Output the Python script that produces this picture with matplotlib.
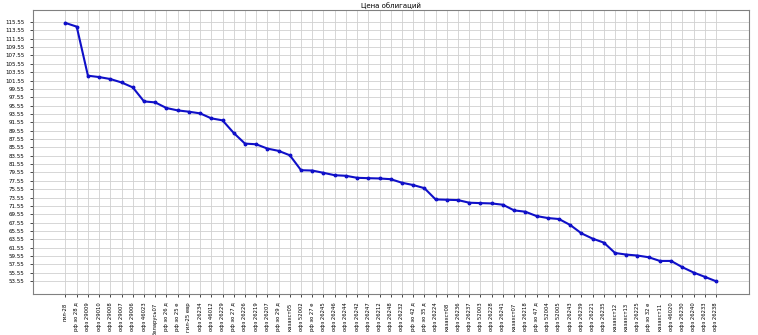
import matplotlib
matplotlib.use('Agg')
import matplotlib.pyplot as plt
import numpy as np

# названия облигаций и цены
names = ['гил-28', 'рф зо 28 д', 'офз 29009', 'офз 29010', 'офз 29008', 'офз 29007',
         'офз 29006', 'офз 46023', 'беларусь07', 'рф зо 26 д', 'рф зо 25 е', 'гил-25 евр',
         'офз 26234', 'офз 46012', 'офз 26229', 'рф зо 27 д', 'офз 26226', 'офз 26219',
         'офз 26207', 'рф зо 29 д', 'казахст05', 'офз 52002', 'рф зо 27 е', 'офз 26245',
         'офз 26246', 'офз 26244', 'офз 26242', 'офз 26247', 'офз 26212', 'офз 26248',
         'офз 26232', 'рф зо 42 д', 'рф зо 35 д', 'офз 26224', 'казахст08', 'офз 26236',
         'офз 26237', 'офз 52003', 'офз 26228', 'офз 26241', 'казахст07', 'офз 26218',
         'рф зо 47 д', 'офз 52004', 'офз 52005', 'офз 26243', 'офз 26239', 'офз 26221',
         'офз 26235', 'казахст12', 'казахст13', 'офз 26225', 'рф зо 32 е', 'казахст11',
         'офз 46020', 'офз 26230', 'офз 26240', 'офз 26233', 'офз 26238']

prices = [115.31, 114.43, 102.7, 102.37, 101.9, 101.08, 99.9, 96.55, 96.31, 94.97,
          94.4, 94.09, 93.69, 92.5, 92.02, 89.0, 86.46, 86.3, 85.27, 84.72,
          83.67, 80.1, 80.02, 79.47, 78.9, 78.76, 78.28, 78.19, 78.12, 77.95,
          77.1, 76.55, 75.8, 73.11, 73.03, 72.95, 72.32, 72.23, 72.15, 71.84,
          70.49, 70.17, 69.13, 68.66, 68.42, 67.0, 65.0, 63.73, 62.78, 60.3,
          59.92, 59.69, 59.28, 58.4, 58.4, 56.9, 55.63, 54.6, 53.55]

fig = plt.figure(figsize=(7.58, 3.35), dpi=100)
ax = fig.add_axes([0.0435, 0.122, 0.944, 0.848])

ax.plot(names, prices, color='#1010c8', linewidth=1.5, marker='o', markersize=1.8)

ax.set_yticks(np.arange(min(prices), max(prices) + 0.5, 2))
ax.set_title('Цена облигаций', fontsize=5, pad=1.5)
ax.tick_params(axis='x', labelrotation=90, labelsize=3.8, length=2.5, width=0.5)
ax.tick_params(axis='y', labelsize=4, length=2.5, width=0.5)
ax.grid(True, color='#d0d0d0', linewidth=0.6)
for s in ax.spines.values():
    s.set_color('#808080')
    s.set_linewidth(0.8)

plt.savefig('out.png', dpi=100)
